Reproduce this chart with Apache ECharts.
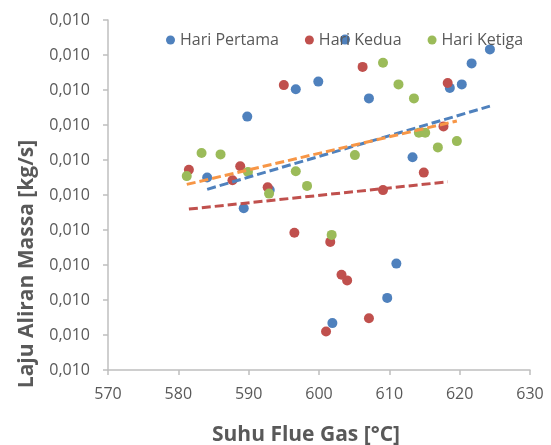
<!DOCTYPE html>
<html>
<head>
<meta charset="utf-8">
<script src="https://cdn.jsdelivr.net/npm/echarts@6/dist/echarts.min.js"></script>
<style>
html,body{margin:0;padding:0;background:#fff;}
#chart{width:551px;height:445px;}
</style>
</head>
<body>
<div id="chart"></div>
<script>
// Data
var seriesNames = ['Hari Pertama', 'Hari Kedua', 'Hari Ketiga'];

var pertamaX = [589.8, 596.7, 599.9, 584.1, 593.0, 589.3, 603.7, 624.3, 621.7, 620.3, 618.6, 607.1, 613.3, 611.0, 609.7, 601.9];
var pertamaY = [0.010112, 0.010151, 0.010162, 0.010025, 0.010007, 0.009981, 0.010222, 0.010208, 0.010188, 0.010158, 0.010153, 0.010138, 0.010054, 0.009902, 0.009853, 0.009817];

var keduaX = [595.0, 581.5, 588.8, 587.7, 592.7, 606.2, 618.3, 617.7, 614.9, 609.1, 596.5, 601.6, 603.2, 604.0, 607.1, 601.0];
var keduaY = [0.010157, 0.010036, 0.010041, 0.010021, 0.010011, 0.010183, 0.010160, 0.010098, 0.010032, 0.010007, 0.009946, 0.009933, 0.009886, 0.009878, 0.009824, 0.009805];

var ketigaX = [583.3, 586.0, 581.2, 589.9, 596.7, 598.3, 592.9, 609.1, 611.3, 613.5, 614.2, 615.1, 619.6, 616.9, 605.1, 601.8];
var ketigaY = [0.010060, 0.010058, 0.010027, 0.010033, 0.010034, 0.010013, 0.010002, 0.010189, 0.010158, 0.010138, 0.010089, 0.010089, 0.010077, 0.010068, 0.010057, 0.009943];

var xTicks = [570, 580, 590, 600, 610, 620, 630];
var yMin = 0.00975, yMax = 0.01025, yStep = 0.00005;

var xTitle = 'Suhu Flue Gas [°C]';
var yTitle = 'Laju Aliran Massa [kg/s]';

var colors = ['#4F81BD', '#C0504D', '#9BBB59'];
var trendColors = ['#4F81BD', '#C0504D', '#F79646'];

function pairs(xs, ys) {
  return xs.map(function (x, i) { return [x, ys[i]]; });
}
function trend(xs, ys) {
  var n = xs.length, mx = 0, my = 0;
  for (var i = 0; i < n; i++) { mx += xs[i]; my += ys[i]; }
  mx /= n; my /= n;
  var sxy = 0, sxx = 0;
  for (var j = 0; j < n; j++) { sxy += (xs[j] - mx) * (ys[j] - my); sxx += (xs[j] - mx) * (xs[j] - mx); }
  var b = sxy / sxx, a = my - b * mx;
  var x0 = Math.min.apply(null, xs), x1 = Math.max.apply(null, xs);
  return [[x0, a + b * x0], [x1, a + b * x1]];
}

var allX = [pertamaX, keduaX, ketigaX];
var allY = [pertamaY, keduaY, ketigaY];

var FONT = 'Open Sans';
var series = [];
for (var s = 0; s < 3; s++) {
  series.push({
    name: seriesNames[s],
    type: 'scatter',
    data: pairs(allX[s], allY[s]),
    symbol: 'circle',
    symbolSize: 10,
    itemStyle: { color: colors[s], opacity: 1 },
    z: 2 + s
  });
}
for (var t = 0; t < 3; t++) {
  series.push({
    name: seriesNames[t] + ' trend',
    type: 'line',
    data: trend(allX[t], allY[t]),
    symbol: 'none',
    lineStyle: { color: trendColors[t], width: 3, type: [9, 4] },
    silent: true,
    z: 6
  });
}

var chart = echarts.init(document.getElementById('chart'), null, { renderer: 'canvas' });
chart.setOption({
  animation: false,
  backgroundColor: '#ffffff',
  textStyle: { fontFamily: FONT },
  grid: { left: 108, right: 21, top: 20, bottom: 75, containLabel: false },
  legend: {
    data: seriesNames,
    left: 166,
    top: 32,
    icon: 'circle',
    itemWidth: 9,
    itemHeight: 9,
    itemGap: 26,
    padding: 0,
    textStyle: { fontFamily: FONT, fontSize: 16, color: '#595959' }
  },
  xAxis: {
    type: 'value',
    min: xTicks[0],
    max: xTicks[xTicks.length - 1],
    interval: xTicks[1] - xTicks[0],
    axisLine: { show: true, lineStyle: { color: '#BFBFBF', width: 1.5 } },
    axisTick: { show: true, length: 5, lineStyle: { color: '#BFBFBF', width: 1.5 } },
    splitLine: { show: false },
    axisLabel: { fontFamily: FONT, fontSize: 16, color: '#595959', margin: 16 }
  },
  yAxis: {
    type: 'value',
    min: yMin,
    max: yMax,
    interval: yStep,
    axisLine: { show: true, lineStyle: { color: '#BFBFBF', width: 1.5 } },
    axisTick: { show: true, length: 5, lineStyle: { color: '#BFBFBF', width: 1.5 } },
    splitLine: { show: false },
    axisLabel: {
      fontFamily: FONT, fontSize: 16, color: '#595959', margin: 18,
      formatter: function (v) { return v.toFixed(3).replace('.', ','); }
    }
  },
  graphic: [
    {
      type: 'text', x: 306, y: 435,
      style: { text: xTitle, fontFamily: FONT, fontSize: 21, fontWeight: 'bold', fill: '#595959', textAlign: 'center', textVerticalAlign: 'middle' }
    },
    {
      type: 'text', x: 27, y: 264, rotation: Math.PI / 2,
      style: { text: yTitle, fontFamily: FONT, fontSize: 21, fontWeight: 'bold', fill: '#595959', textAlign: 'center', textVerticalAlign: 'middle' }
    }
  ],
  series: series
});
</script>
</body>
</html>
